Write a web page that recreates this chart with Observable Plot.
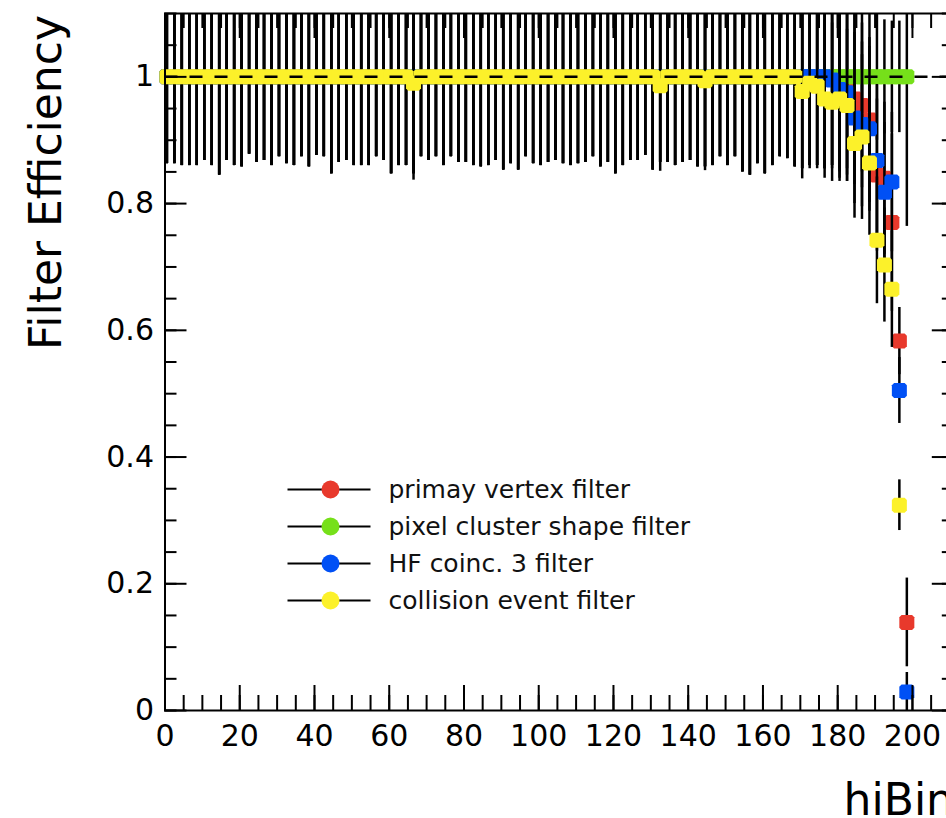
<!DOCTYPE html>
<html><head><meta charset="utf-8">
<script src="https://cdn.jsdelivr.net/npm/d3@7"></script>
<script src="https://cdn.jsdelivr.net/npm/@observablehq/plot@0.6"></script>
<style>
html,body{margin:0;padding:0;background:#fff;}
#wrap{width:946px;height:818px;overflow:hidden;position:relative;background:#fff;}
#wrap svg{max-width:none !important;width:956px !important;height:818px !important;}
</style></head><body><div id="wrap"></div>
<script>
// ---------------- data ----------------
const binCenters = d3.range(0.5, 200, 2); // 100 hiBin bins of width 2

// symmetric error of a point sitting at efficiency 1, per bin
const errAtOne = [
  0.137,0.137,0.140,0.140,0.140,0.132,0.140,0.155,0.132,0.140,
  0.142,0.122,0.135,0.132,0.140,0.126,0.137,0.140,0.126,0.142,
  0.124,0.126,0.153,0.135,0.132,0.140,0.140,0.140,0.126,0.132,
  0.153,0.140,0.140,0.153,0.126,0.132,0.126,0.140,0.126,0.135,
  0.135,0.140,0.142,0.140,0.132,0.147,0.137,0.147,0.126,0.137,
  0.140,0.135,0.132,0.137,0.140,0.137,0.135,0.126,0.142,0.135,
  0.153,0.140,0.132,0.132,0.124,0.147,0.135,0.135,0.140,0.135,
  0.132,0.142,0.142,0.140,0.126,0.140,0.126,0.150,0.155,0.137,
  0.153,0.140,0.126,0.129,0.142,0.145,0.140,0.140,0.145,0.140,
  0.145,0.145,0.148,0.150,0.155,0.100,0.090,0.088,0.088,0.236
];

const seriesNames = ["primay vertex filter", "pixel cluster shape filter", "HF coinc. 3 filter", "collision event filter"];
const seriesColors = ["#e8392c", "#76e01a", "#0050f5", "#fcf12a"];

const redEff = [
  1,1,1,1,1,1,1,1,1,1,1,1,1,1,1,1,1,1,1,1,
  1,1,1,1,1,1,1,1,1,1,1,1,1,1,1,1,1,1,1,1,
  1,1,1,1,1,1,1,1,1,1,1,1,1,1,1,1,1,1,1,1,
  1,1,1,1,1,1,1,1,1,1,1,1,1,1,1,1,1,1,1,1,
  1,1,1,1,1,1,1,1,1,1,0.99,0.985,0.965,0.955,0.932,0.845,0.84,0.77,0.583,0.139
];
const greenEff = [
  1,1,1,1,1,1,1,1,1,1,1,1,1,1,1,1,1,1,1,1,
  1,1,1,1,1,1,1,1,1,1,1,1,1,1,1,1,1,1,1,1,
  1,1,1,1,1,1,1,1,1,1,1,1,1,1,1,1,1,1,1,1,
  1,1,1,1,1,1,1,1,1,1,1,1,1,1,1,1,1,1,1,1,
  1,1,1,1,1,1,1,1,1,1,1,1,1,1,1,1,1,1,1,1
];
const blueEff = [
  1,1,1,1,1,1,1,1,1,1,1,1,1,1,1,1,1,1,1,1,
  1,1,1,1,1,1,1,1,1,1,1,1,1,1,1,1,1,1,1,1,
  1,1,1,1,1,1,1,1,1,1,1,1,1,1,1,1,1,1,1,1,
  1,1,1,1,1,1,1,1,1,1,1,1,1,1,1,1,1,1,1,1,
  1,1,1,1,1,1,1,1,1,0.995,0.98,0.975,0.935,0.925,0.918,0.868,0.818,0.834,0.505,0.029
];
const yellowEff = [
  1,1,1,1,1,1,1,1,1,1,1,1,1,1,1,1,1,1,1,1,
  1,1,1,1,1,1,1,1,1,1,1,1,1,0.99,1,1,1,1,1,1,
  1,1,1,1,1,1,1,1,1,1,1,1,1,1,1,1,1,1,1,1,
  1,1,1,1,1,1,0.986,1,1,1,1,1,0.994,1,1,1,1,1,1,1,
  1,1,1,1,1,0.977,0.99,0.985,0.965,0.96,0.965,0.955,0.895,0.905,0.864,0.742,0.703,0.665,0.324,null
];

// errors of the last 16 bins (168.5 ... 198.5), where the series differ
const redErrTail    = [0.142,0.145,0.140,0.140,0.145,0.140,0.140,0.140,0.135,0.130,0.130,0.120,0.120,0.140,0.053,0.070];
const greenErrTail  = [0.142,0.145,0.140,0.140,0.145,0.140,0.145,0.145,0.148,0.150,0.155,0.100,0.090,0.088,0.088,0.236];
const blueErrTail   = [0.142,0.145,0.140,0.140,0.145,0.140,0.140,0.140,0.135,0.130,0.130,0.120,0.110,0.110,0.052,0.031];
const yellowErrTail = [0.142,0.138,0.135,0.130,0.125,0.125,0.130,0.120,0.118,0.130,0.114,0.100,0.090,0.092,0.040,null];

const xMajor = [0,20,40,60,80,100,120,140,160,180,200];
const xMinor = d3.range(0, 211, 5);
const yMajor = [0,0.2,0.4,0.6,0.8,1];
const yMinor = d3.range(0, 1.101, 0.05);

// ---------------- layout ----------------
const W = 956, H = 818;
const mL = 164.5, mR = 2.2, mT = 13, mB = 108;
const plotW = W - mL - mR, plotH = H - mT - mB;
const xDom = [0, 211.2], yDom = [0, 1.1];
const px2x = px => (px - mL) / plotW * (xDom[1] - xDom[0]) + xDom[0];
const py2y = py => (mT + plotH - py) / plotH * (yDom[1] - yDom[0]) + yDom[0];

const effs = [redEff, greenEff, blueEff, yellowEff];
const tails = [redErrTail, greenErrTail, blueErrTail, yellowErrTail];

function rowsFor(k) {
  const eff = effs[k];
  const err = errAtOne.slice(0, 84).concat(tails[k]);
  const out = [];
  binCenters.forEach((x, i) => {
    if (eff[i] == null) return;
    out.push({x, v: eff[i], lo: Math.max(yDom[0], eff[i] - err[i]), hi: Math.min(yDom[1], eff[i] + err[i])});
  });
  return out;
}

const chamfer = {
  draw(ctx, size) {
    const r = Math.sqrt(size / Math.PI), c = r * 0.3;
    ctx.moveTo(-r + c, -r); ctx.lineTo(r - c, -r); ctx.lineTo(r, -r + c); ctx.lineTo(r, r - c);
    ctx.lineTo(r - c, r); ctx.lineTo(-r + c, r); ctx.lineTo(-r, r - c); ctx.lineTo(-r, -r + c); ctx.closePath();
  }
};

const marks = [];
for (let k = 0; k < 4; k++) {
  const rows = rowsFor(k);
  marks.push(Plot.ruleX(rows, {x: "x", y1: "lo", y2: "hi", stroke: "black", strokeWidth: 2.5}));
  marks.push(Plot.dot(rows, {x: "x", y: "v", symbol: chamfer, r: 7.5, fill: seriesColors[k], stroke: "none"}));
}
// dashed reference line at efficiency 1
marks.push(Plot.ruleY([1], {stroke: "black", strokeWidth: 2.5, strokeDasharray: "13,12"}));

// ticks (ROOT style, inside the frame, mirrored)
const tk = {stroke: "black", strokeWidth: 2};
marks.push(Plot.tickX(xMajor, {...tk, x: d => d, insetTop: plotH - 25}));
marks.push(Plot.tickX(xMinor, {...tk, x: d => d, insetTop: plotH - 15}));
marks.push(Plot.tickX(xMajor, {...tk, x: d => d, insetBottom: plotH - 25}));
marks.push(Plot.tickX(xMinor, {...tk, x: d => d, insetBottom: plotH - 15}));
marks.push(Plot.tickY(yMajor, {...tk, y: d => d, insetRight: plotW - 22}));
marks.push(Plot.tickY(yMinor, {...tk, y: d => d, insetRight: plotW - 12}));
marks.push(Plot.tickY(yMajor, {...tk, y: d => d, insetLeft: plotW - 22}));
marks.push(Plot.tickY(yMinor, {...tk, y: d => d, insetLeft: plotW - 12}));
marks.push(Plot.frame({stroke: "black", strokeWidth: 2}));

// tick labels
marks.push(Plot.text(xMajor, {x: d => d, frameAnchor: "bottom", dy: 14, lineAnchor: "top", text: d => String(d), fontSize: 30, fill: "black"}));
marks.push(Plot.text(yMajor, {y: d => d, frameAnchor: "left", dx: -11, textAnchor: "end", text: d => String(+d.toFixed(1)), fontSize: 30, fill: "black"}));

// legend (ROOT TLegend inside the pad)
const legRowsPx = [489, 526, 563, 600];
const legend = seriesNames.map((name, i) => ({
  name, color: seriesColors[i],
  y: py2y(legRowsPx[i]), x1: px2x(287), x2: px2x(370), xc: px2x(330), xt: px2x(388)
}));
marks.push(Plot.link(legend, {x1: "x1", x2: "x2", y1: "y", y2: "y", stroke: "black", strokeWidth: 2}));
marks.push(Plot.dot(legend, {x: "xc", y: "y", r: 9, fill: "color", stroke: "none"}));
marks.push(Plot.text(legend, {x: "xt", y: "y", text: "name", textAnchor: "start", fontSize: 25, fill: "#111"}));

const chart = Plot.plot({
  width: W, height: H,
  marginLeft: mL, marginRight: mR, marginTop: mT, marginBottom: mB,
  x: {domain: xDom, axis: null},
  y: {domain: yDom, axis: null},
  style: {fontFamily: "DejaVu Sans", background: "white", color: "black", overflow: "visible", maxWidth: "none"},
  marks
});

// axis titles
const svg = d3.select(chart);
svg.append("text")
  .attr("transform", "translate(61,15) rotate(-90)")
  .attr("text-anchor", "end")
  .attr("font-family", "DejaVu Sans").attr("font-size", 44).attr("fill", "black")
  .text("Filter Efficiency");
svg.append("text")
  .attr("x", 954).attr("y", 815)
  .attr("text-anchor", "end")
  .attr("font-family", "DejaVu Sans").attr("font-size", 44).attr("fill", "black")
  .text("hiBin");

document.getElementById("wrap").appendChild(chart);
</script></body></html>
